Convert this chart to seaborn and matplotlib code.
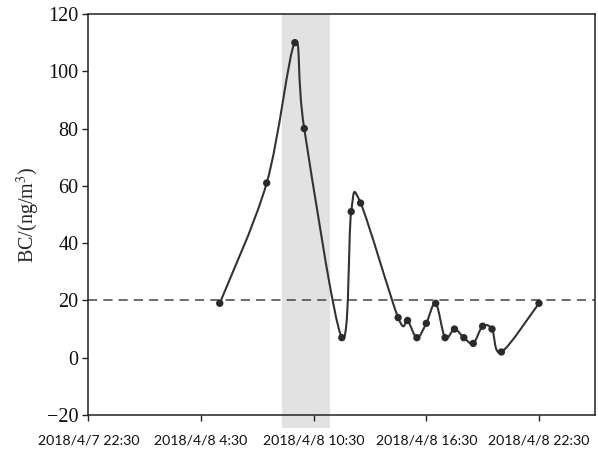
import numpy as np
import pandas as pd
import matplotlib
matplotlib.use("Agg")
import matplotlib.pyplot as plt
import matplotlib.dates as mdates
from matplotlib.path import Path
from matplotlib.patches import PathPatch
import seaborn as sns

# ---- data ----
times = ["2018-04-08 05:30", "2018-04-08 08:00", "2018-04-08 09:30", "2018-04-08 10:00",
         "2018-04-08 12:00", "2018-04-08 12:30", "2018-04-08 13:00", "2018-04-08 15:00",
         "2018-04-08 15:30", "2018-04-08 16:00", "2018-04-08 16:30", "2018-04-08 17:00",
         "2018-04-08 17:30", "2018-04-08 18:00", "2018-04-08 18:30", "2018-04-08 19:00",
         "2018-04-08 19:30", "2018-04-08 20:00", "2018-04-08 20:30", "2018-04-08 22:30"]
bc_values = [19, 61, 110, 80, 7, 51, 54, 14, 13, 7, 12, 19, 7, 10, 7, 5, 11, 10, 2, 19]
threshold = 20
band_start, band_end = "2018-04-08 08:50", "2018-04-08 11:22"
x_start, x_end = "2018-04-07 22:30", "2018-04-09 01:30"
tick_times = ["2018-04-07 22:30", "2018-04-08 04:30", "2018-04-08 10:30",
              "2018-04-08 16:30", "2018-04-08 22:30"]
tick_labels = ["2018/4/7 22:30", "2018/4/8 4:30", "2018/4/8 10:30",
               "2018/4/8 16:30", "2018/4/8 22:30"]
y_ticks = [-20, 0, 20, 40, 60, 80, 100, 120]

df = pd.DataFrame({"time": pd.to_datetime(times), "BC": bc_values})

sns.set_theme(style="white")
plt.rcParams["font.family"] = ["Liberation Serif", "DejaVu Serif"]
plt.rcParams["mathtext.fontset"] = "stix"

SERIF = ["Liberation Serif", "DejaVu Serif"]
SANS = ["Lato", "DejaVu Sans"]

fig = plt.figure(figsize=(5.98, 4.5), dpi=100)
ax = fig.add_axes([88.3 / 598, 35 / 450, (595.3 - 88.3) / 598, (415 - 14) / 450])

# shaded band
ax.axvspan(pd.Timestamp(band_start), pd.Timestamp(band_end), ymin=-0.033, ymax=1,
           color="#e2e2e2", lw=0, zorder=0, clip_on=False)

# threshold line
ax.axhline(threshold, color="#444444", lw=1.1, ls=(0, (6, 4)), zorder=1)

# smoothed line (Bezier, Catmull-Rom style control points from the data)
xs = mdates.date2num(df["time"])
ys = np.asarray(df["BC"], dtype=float)
n = len(xs)
verts = [(xs[0], ys[0])]
codes = [Path.MOVETO]
for i in range(n - 1):
    p0 = np.array([xs[max(i - 1, 0)], ys[max(i - 1, 0)]])
    p1 = np.array([xs[i], ys[i]])
    p2 = np.array([xs[i + 1], ys[i + 1]])
    p3 = np.array([xs[min(i + 2, n - 1)], ys[min(i + 2, n - 1)]])
    c1 = p1 + (p2 - p0) / 6.0
    c2 = p2 - (p3 - p1) / 6.0
    verts += [tuple(c1), tuple(c2), tuple(p2)]
    codes += [Path.CURVE4] * 3
ax.add_patch(PathPatch(Path(verts, codes), facecolor="none", edgecolor="#333333",
                       lw=1.5, zorder=2))

sns.scatterplot(data=df, x="time", y="BC", ax=ax, color="#2a2a2a", s=28,
                edgecolor="none", zorder=3, legend=False)

ax.set_xlim(pd.Timestamp(x_start), pd.Timestamp(x_end))
ax.set_ylim(-20, 120)
ax.set_xticks(pd.to_datetime(tick_times))
ax.set_xticklabels(tick_labels, fontfamily=SANS, fontsize=10.2)
ax.set_yticks(y_ticks)
ax.set_yticklabels(["\u221220" if v < 0 else str(v) for v in y_ticks],
                   fontfamily=SERIF, fontsize=14.5)
ax.set_xlabel("")
ax.set_ylabel("BC/(ng/m$^3$)", fontfamily=SERIF, fontsize=14.5, labelpad=4)

for s in ax.spines.values():
    s.set_color("#222222")
    s.set_linewidth(1.1)
ax.tick_params(axis="both", direction="out", length=4, width=1, color="#222222",
               colors="#111111", left=True, bottom=True)
ax.tick_params(axis="y", pad=3)
ax.tick_params(axis="x", pad=10)

fig.savefig("out.png", dpi=100)
